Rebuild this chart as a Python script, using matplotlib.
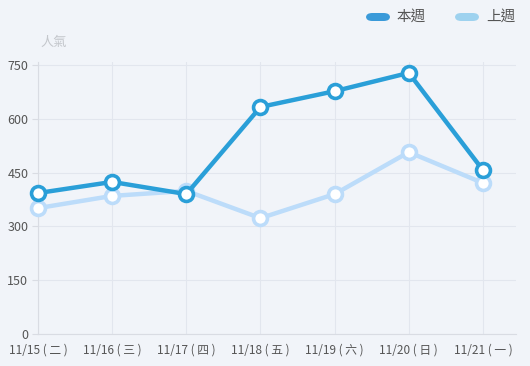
import matplotlib.pyplot as plt
from matplotlib.patches import FancyBboxPatch

plt.rcParams["font.family"] = ["Noto Sans CJK TC", "DejaVu Sans"]

days = ["11/15 ( 二 )", "11/16 ( 三 )", "11/17 ( 四 )", "11/18 ( 五 )",
        "11/19 ( 六 )", "11/20 ( 日 )", "11/21 ( 一 )"]
this_week = [393, 424, 390, 633, 677, 728, 457]
last_week = [351, 385, 399, 323, 390, 507, 421]
y_ticks = [0, 150, 300, 450, 600, 750]

BG = "#f1f4f9"
DARK = "#2a9fd8"
LIGHT = "#bcdcfa"

fig = plt.figure(figsize=(5.3, 3.66), dpi=100, facecolor=BG)
ax = fig.add_axes([38 / 530, 1 - 334 / 366, (516 - 38) / 530, (334 - 62) / 366])
ax.set_facecolor(BG)

x = list(range(len(days)))
ax.plot(x, last_week, color=LIGHT, linewidth=3.2, marker="o", markersize=10,
        markerfacecolor="white", markeredgecolor=LIGHT, markeredgewidth=2.6,
        zorder=3, clip_on=False)
ax.plot(x, this_week, color=DARK, linewidth=3.2, marker="o", markersize=10,
        markerfacecolor="white", markeredgecolor=DARK, markeredgewidth=2.6,
        zorder=4, clip_on=False)

ax.set_xlim(0, 6 + 33 / 74)
ax.set_ylim(0, 750 * (334 - 62) / (334 - 65))
ax.set_xticks(x)
ax.set_xticklabels(days)
ax.set_yticks(y_ticks)
ax.grid(True, color="#e2e6ee", linewidth=0.8)
ax.set_axisbelow(True)
for side in ["top", "right"]:
    ax.spines[side].set_visible(False)
for side in ["left", "bottom"]:
    ax.spines[side].set_color("#d9dce3")
    ax.spines[side].set_linewidth(0.8)
ax.tick_params(axis="y", colors="#d9dce3", labelcolor="#555555", labelsize=9, length=4, pad=3)
ax.tick_params(axis="x", colors="#d9dce3", labelcolor="#555555", labelsize=8.5, length=0, pad=7)

fig.text(40 / 530, 1 - 42 / 366, "人氣", color="#c4c7cc", fontsize=9.5, va="center")

# legend
for lx, col, label in [(366, "#3a9ad9", "本週"), (455, "#9ed2ef", "上週")]:
    fig.patches.append(FancyBboxPatch((lx / 530, 1 - 21 / 366), 24 / 530, 8 / 366,
                                      boxstyle="round,pad=0,rounding_size=0.012",
                                      transform=fig.transFigure, facecolor=col,
                                      edgecolor="none"))
    fig.text((lx + 31) / 530, 1 - 17 / 366, label, color="#555555", fontsize=10.5, va="center")

fig.savefig("out.png", dpi=100, facecolor=BG)
